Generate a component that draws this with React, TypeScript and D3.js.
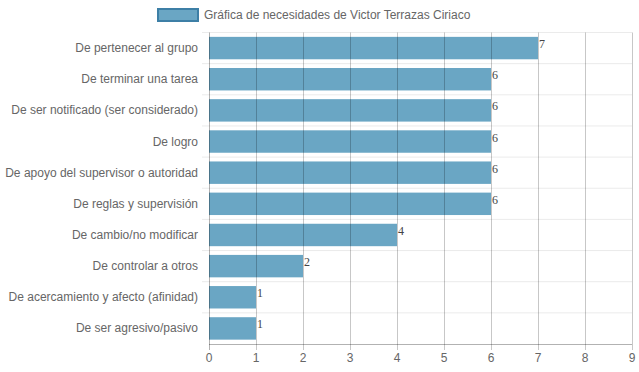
import React from "react";
import * as d3 from "d3";

const categories = [
  "De pertenecer al grupo",
  "De terminar una tarea",
  "De ser notificado (ser considerado)",
  "De logro",
  "De apoyo del supervisor o autoridad",
  "De reglas y supervisión",
  "De cambio/no modificar",
  "De controlar a otros",
  "De acercamiento y afecto (afinidad)",
  "De ser agresivo/pasivo",
];
const values = [7, 6, 6, 6, 6, 6, 4, 2, 1, 1];
const xTicks = [0, 1, 2, 3, 4, 5, 6, 7, 8, 9];
const seriesLabel = "Gráfica de necesidades de Victor Terrazas Ciriaco";

export default function App() {
  const W = 639, H = 372;
  const left = 209, right = 632, top = 32.5, bottom = 344;
  const x = d3.scaleLinear().domain([0, 9]).range([left, right]);
  const y = d3.scaleBand<string>().domain(categories).range([top, bottom]);
  const bw = y.bandwidth() * 0.72;
  const font = "Arial, 'Liberation Sans', sans-serif";
  return (
    <svg width={W} height={H} style={{ position: "absolute", left: 0, top: 0 }}>
      <rect width={W} height={H} fill="#fff" />
      {/* legend */}
      <rect x={158} y={9} width={40} height={12} fill="#6aa6c4" stroke="#3d7fa6" strokeWidth={2} />
      <text x={204} y={15} dominantBaseline="central" fontFamily={font} fontSize={12} fill="#666">{seriesLabel}</text>
      {/* horizontal grid */}
      {categories.map((c, i) => (
        <line key={"h" + i} x1={left - 7} x2={right} y1={y(c)!} y2={y(c)!} stroke="#ebebeb" strokeWidth={1} />
      ))}
      {/* bars */}
      {categories.map((c, i) => (
        <rect key={"b" + i} x={x(0)} y={y(c)! + (y.bandwidth() - bw) / 2} width={x(values[i]) - x(0)} height={bw} fill="#6aa6c4" />
      ))}
      {/* vertical grid */}
      {xTicks.map((t) => (
        <line key={"v" + t} x1={Math.round(x(t)) + 0.5} x2={Math.round(x(t)) + 0.5} y1={top} y2={bottom + 6}
          stroke={t === 0 ? "rgba(0,0,0,0.3)" : "rgba(0,0,0,0.22)"} strokeWidth={1} />
      ))}
      <line x1={left} x2={right} y1={bottom + 0.5} y2={bottom + 0.5} stroke="rgba(0,0,0,0.3)" />
      {/* x tick labels */}
      {xTicks.map((t) => (
        <text key={"xt" + t} x={x(t)} y={358} textAnchor="middle" dominantBaseline="central" fontFamily={font} fontSize={12} fill="#666">{t}</text>
      ))}
      {/* y labels */}
      {categories.map((c, i) => (
        <text key={"yl" + i} x={198} y={y(c)! + y.bandwidth() / 2} textAnchor="end" dominantBaseline="central" fontFamily={font} fontSize={12} fill="#666">{c}</text>
      ))}
      {/* value labels */}
      {categories.map((c, i) => (
        <text key={"vl" + i} x={x(values[i]) + 1} y={y(c)! + y.bandwidth() / 2 - 4} dominantBaseline="central" fontFamily="'Liberation Serif', 'Times New Roman', serif" fontSize={12} fill="#444">{values[i]}</text>
      ))}
    </svg>
  );
}
